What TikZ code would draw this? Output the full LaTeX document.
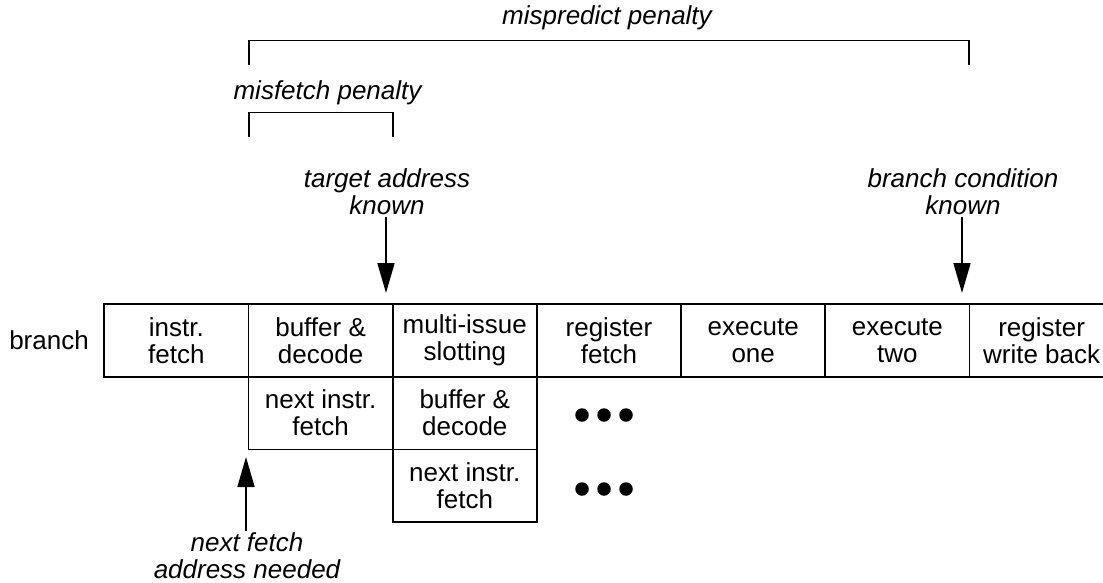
\documentclass[tikz,border=0pt]{standalone}
\usepackage{fontspec}
\setmainfont{Liberation Sans}
\usetikzlibrary{arrows.meta}
\begin{document}
\begin{tikzpicture}[x=1pt,y=-1pt,
  txt/.style={font=\fontsize{26}{27}\selectfont, align=center, inner sep=2pt},
  lbl/.style={txt, font=\fontsize{26}{27}\selectfont\itshape},
  stage/.style={txt, draw, line width=1.7pt, minimum width=144.2pt,
    minimum height=72.7pt, outer sep=0pt, anchor=north west},
  arr/.style={line width=1.7pt, -{Triangle[length=30pt,width=17pt]}},
  brk/.style={line width=1.7pt},
  dot/.style={circle, fill, inner sep=0pt, minimum size=13.5pt}]
\useasboundingbox (0,0) rectangle (1103,582);
\clip (0,0) rectangle (1103,582);

% pipeline stages of the branch instruction
\node[txt] (br) at (49,340.5) {branch};
\node[stage] (s1) at (104.3,304) {instr.\\fetch};
\node[stage] (s2) at (248.5,304) {buffer \&\\decode};
\node[stage] (s3) at (392.7,304) {multi-issue\\slotting};
\node[stage] (s4) at (536.9,304) {register\\fetch};
\node[stage] (s5) at (681.1,304) {execute\\one};
\node[stage] (s6) at (825.3,304) {execute\\two};
\node[stage] (s7) at (969.5,304) {register\\write back};

% following instructions
\node[stage] (n1) at (248.5,376.7) {next instr.\\fetch};
\node[stage] (n2) at (392.7,376.7) {buffer \&\\decode};
\node[stage] (n3) at (392.7,449.4) {next instr.\\fetch};

% continuation dots
\node[dot] (d1) at (582,415) {};
\node[dot] (d2) at (604,415) {};
\node[dot] (d3) at (626,415) {};
\node[dot] (e1) at (582,489) {};
\node[dot] (e2) at (604,489) {};
\node[dot] (e3) at (626,489) {};

% penalty brackets
\node[lbl] (mp) at (607,18) {mispredict penalty};
\draw[brk] (249,65) -- (249,40.5) -- (969,40.5) -- (969,65);
\node[lbl] (mf) at (327.5,93) {misfetch penalty};
\draw[brk] (249,137) -- (249,112.5) -- (392.7,112.5) -- (392.7,137);

% event markers
\node[lbl] (ta) at (387,191.5) {target address\\known};
\coordinate (tat) at (386,293);
\draw[arr] (ta.south -| tat) -- (tat);

\node[lbl] (bc) at (963,191.5) {branch condition\\known};
\coordinate (bct) at (962,293);
\draw[arr] (bc.south -| bct) -- (bct);

\node[lbl] (nf) at (247,556) {next fetch\\address needed};
\coordinate (nft) at (246,457);
\draw[arr] (nf.north -| nft) -- (nft);
\end{tikzpicture}
\end{document}
